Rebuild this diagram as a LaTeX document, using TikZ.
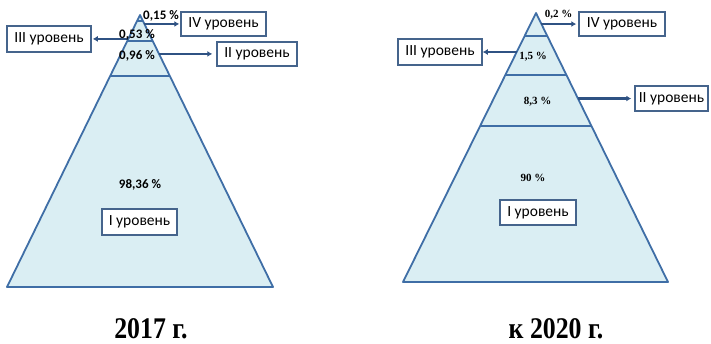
\documentclass[tikz,border=0pt]{standalone}
\usepackage{fontspec}
\setmainfont{Liberation Serif}
\newfontfamily\lab{Carlito}
\usetikzlibrary{arrows.meta,calc}
\definecolor{pfill}{HTML}{DAEEF3}
\definecolor{pline}{HTML}{3F6EA6}
\definecolor{aline}{HTML}{2F5283}
\definecolor{bline}{HTML}{45648C}
\tikzset{
 lbox/.style={draw=bline,line width=1.5pt,fill=white,font=\lab\fontsize{15.5}{16}\selectfont,inner sep=0pt,minimum height=24pt},
 pyr/.style={draw=pline,line width=1.8pt,fill=pfill,line join=round},
 layer/.style={draw=pline,line width=1.8pt},
 arr/.style={draw=aline,line width=2.6pt,-{Latex[length=5pt,width=6pt]}},
 lpct/.style={font=\lab\bfseries\fontsize{13}{14}\selectfont,inner sep=0pt},
 rpct/.style={font=\bfseries\fontsize{11}{12}\selectfont,inner sep=0pt},
 year/.style={font=\bfseries\fontsize{30}{31}\selectfont,xscale=0.86,inner sep=0pt}
}
\begin{document}
\begin{tikzpicture}[x=1pt,y=-1pt]
\useasboundingbox (0,0) rectangle (711,344);
% ---------- left pyramid (2017) ----------
\coordinate (LA) at (140,15);
\coordinate (LL) at (7,287);
\coordinate (LR) at (273,287);
\draw[pyr] (LA) -- (LR) -- (LL) -- cycle;
\draw[layer] ($(LA)!0.022!(LL)$) -- ($(LA)!0.022!(LR)$);
\draw[layer] ($(LA)!0.0956!(LL)$) -- ($(LA)!0.0956!(LR)$);
\draw[layer] ($(LA)!0.2243!(LL)$) -- ($(LA)!0.2243!(LR)$);
\node[lbox,minimum width=85pt] (l4) at (223.5,24) {IV уровень};
\node[lbox,minimum width=84pt,minimum height=26pt] (l3) at (49,39) {III уровень};
\node[lbox,minimum width=80pt] (l2) at (257,54) {II уровень};
\node[lbox,minimum width=75pt,minimum height=26pt] (l1) at (139.5,222) {I уровень};
\coordinate (l4s) at ($(LA)!0.033!(LR)$);
\coordinate (l3s) at ($(LA)!0.088!(LL)$);
\coordinate (l2s) at ($(LA)!0.143!(LR)$);
\draw[arr] (l4s) -- ([xshift=-1pt]l4s -| l4.west);
\draw[arr] (l3s) -- ([xshift=1pt]l3s -| l3.east);
\draw[arr] (l2s) -- ([xshift=-4pt]l2s -| l2.west);
\node[lpct] (lp4) at (161,16) {0,15 \%};
\node[lpct] (lp3) at (137,35) {0,53 \%};
\node[lpct] (lp2) at (137,56) {0,96 \%};
\node[lpct] (lp1) at (140,185) {98,36 \%};
% ---------- right pyramid (2020) ----------
\coordinate (RA) at (536,13);
\coordinate (RL) at (403,282);
\coordinate (RR) at (668,282);
\draw[pyr] (RA) -- (RR) -- (RL) -- cycle;
\draw[layer] ($(RA)!0.0855!(RL)$) -- ($(RA)!0.0855!(RR)$);
\draw[layer] ($(RA)!0.2305!(RL)$) -- ($(RA)!0.2305!(RR)$);
\draw[layer] ($(RA)!0.420!(RL)$) -- ($(RA)!0.420!(RR)$);
\node[lbox,minimum width=86pt] (r4) at (622,24) {IV уровень};
\node[lbox,minimum width=84pt,minimum height=26pt] (r3) at (440,52) {III уровень};
\node[lbox,minimum width=73pt,minimum height=25pt] (r2) at (671.5,98.5) {II уровень};
\node[lbox,minimum width=76pt,minimum height=25pt] (r1) at (538,212.5) {I уровень};
\coordinate (r4s) at ($(RA)!0.041!(RR)$);
\coordinate (r3s) at ($(RA)!0.145!(RL)$);
\coordinate (r2s) at ($(RA)!0.318!(RR)$);
\draw[arr] (r4s) -- ([xshift=-2pt]r4s -| r4.west);
\draw[arr] (r3s) -- (r3s -| r3.east);
\draw[arr] (r2s) -- ([xshift=-3pt]r2s -| r2.west);
\node[rpct] (rp4) at (558.5,15) {0,2 \%};
\node[rpct] (rp3) at (533,57) {1,5 \%};
\node[rpct] (rp2) at (537.5,102) {8,3 \%};
\node[rpct] (rp1) at (533,178) {90 \%};
% ---------- years ----------
\node[year] (y1) at (151,329) {2017 г.};
\node[year] (y2) at (556,329) {к 2020 г.};
\end{tikzpicture}
\end{document}
